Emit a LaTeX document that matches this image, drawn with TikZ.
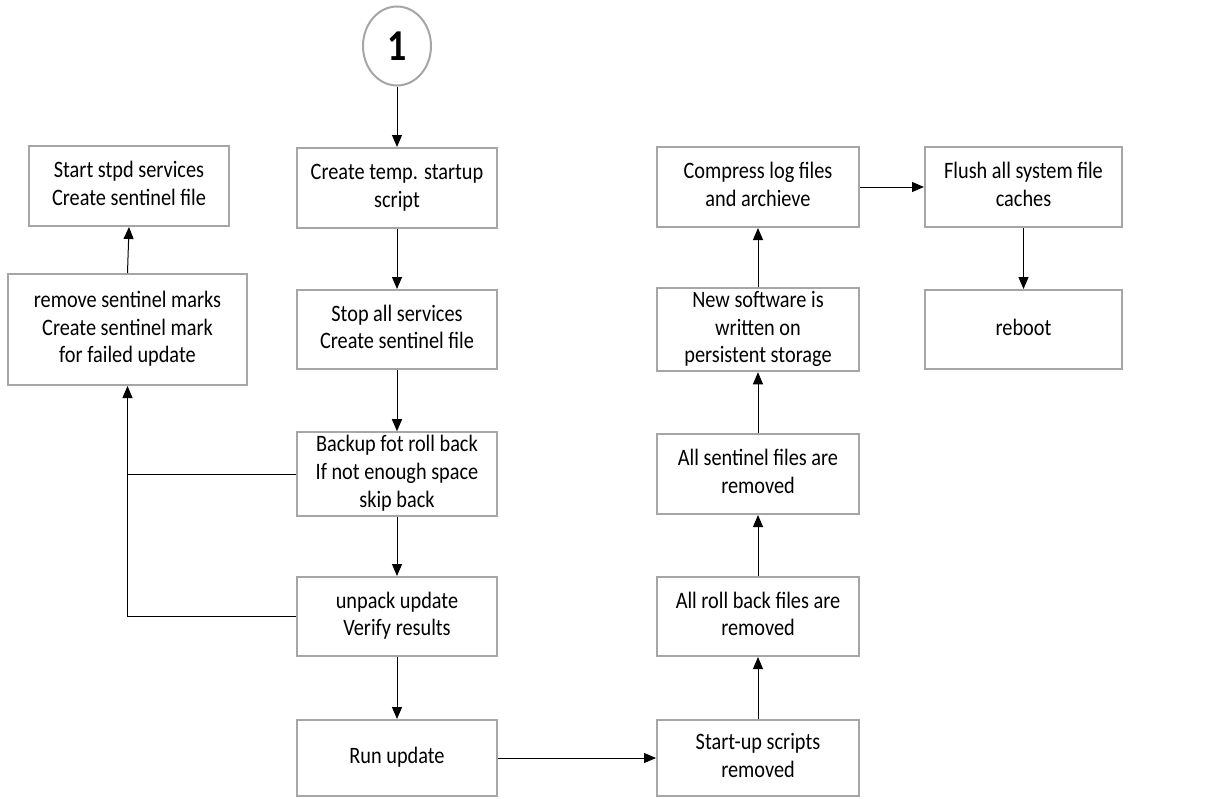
\documentclass[tikz,border=0pt]{standalone}
\usepackage{fontspec}
\setmainfont{Carlito}
\usetikzlibrary{arrows.meta,shapes.geometric}
\definecolor{boxgray}{HTML}{A6A6A6}
\newcommand{\vtxt}[1]{\scalebox{1}[1.16]{\fontsize{20.3}{24}\selectfont\begin{tabular}{@{}c@{}}#1\end{tabular}}}
\tikzset{
  stepbox/.style={draw=boxgray, line width=2pt, rectangle, inner sep=0pt, fill=white},
  arr/.style={draw=black, line width=1pt, -{Triangle[length=12pt,width=10pt]}},
  plain/.style={draw=black, line width=1pt},
}
\begin{document}
\begin{tikzpicture}[x=1pt,y=-1pt]
\useasboundingbox (0,0) rectangle (1214,798);
% start circle
\node[ellipse, draw=boxgray, line width=2pt, minimum width=68pt, minimum height=79pt, inner sep=0pt] (one) at (397,46) {\scalebox{1}[1.16]{\fontsize{38}{44}\selectfont\bfseries 1}};
% left column
\node[stepbox, minimum width=200pt, minimum height=80pt] (start) at (129,186) {\vtxt{Start stpd services\\Create sentinel file}};
\node[stepbox, minimum width=239pt, minimum height=111pt] (remove) at (127.5,329.5) {\vtxt{remove sentinel marks\\Create sentinel mark\\for failed update}};
% middle column
\node[stepbox, minimum width=200pt, minimum height=80pt] (create) at (397,188) {\vtxt{Create temp. startup\\script}};
\node[stepbox, minimum width=200pt, minimum height=79pt] (stop) at (397,329.5) {\vtxt{Stop all services\\Create sentinel file}};
\node[stepbox, minimum width=200pt, minimum height=80pt] (backup) at (397,474) {\vtxt{Backup fot roll back\\If not enough space\\skip back}};
\node[stepbox, minimum width=200pt, minimum height=79pt] (unpack) at (397,616.5) {\vtxt{unpack update\\Verify results}};
\node[stepbox, minimum width=200pt, minimum height=76pt] (run) at (397,758) {\vtxt{Run update}};
% right-middle column
\node[stepbox, minimum width=202pt, minimum height=80pt] (compress) at (758,187) {\vtxt{Compress log files\\and archieve}};
\node[stepbox, minimum width=202pt, minimum height=79pt] (newsw) at (758,329.5) {\vtxt{New software is\\written on\\persistent storage}};
\node[stepbox, minimum width=202pt, minimum height=80pt] (sentinel) at (758,474) {\vtxt{All sentinel files are\\removed}};
\node[stepbox, minimum width=202pt, minimum height=79pt] (rollback) at (758,616.5) {\vtxt{All roll back files are\\removed}};
\node[stepbox, minimum width=202pt, minimum height=76pt] (startup) at (758,758) {\vtxt{Start-up scripts\\removed}};
% right column
\node[stepbox, minimum width=197pt, minimum height=80pt] (flush) at (1023.5,187) {\vtxt{Flush all system file\\caches}};
\node[stepbox, minimum width=197pt, minimum height=79pt] (reboot) at (1023.5,329.5) {\vtxt{reboot}};
% connectors
\draw[arr] (one.south) -- (create.north);
\draw[arr] (create.south) -- (stop.north);
\draw[arr] (stop.south) -- (backup.north);
\draw[arr] (backup.south) -- (unpack.north);
\draw[arr] (unpack.south) -- (run.north);
\draw[arr] (run.east) -- (startup.west);
\draw[arr] (startup.north) -- (rollback.south);
\draw[arr] (rollback.north) -- (sentinel.south);
\draw[arr] (sentinel.north) -- (newsw.south);
\draw[arr] (newsw.north) -- (compress.south);
\draw[arr] (compress.east) -- (flush.west);
\draw[arr] (flush.south) -- (reboot.north);
\draw[arr] (remove.north) -- (start.south);
\draw[arr] (unpack.west) -| (remove.south);
\draw[plain] (backup.west) -- (backup.west -| remove.south);
\end{tikzpicture}
\end{document}
